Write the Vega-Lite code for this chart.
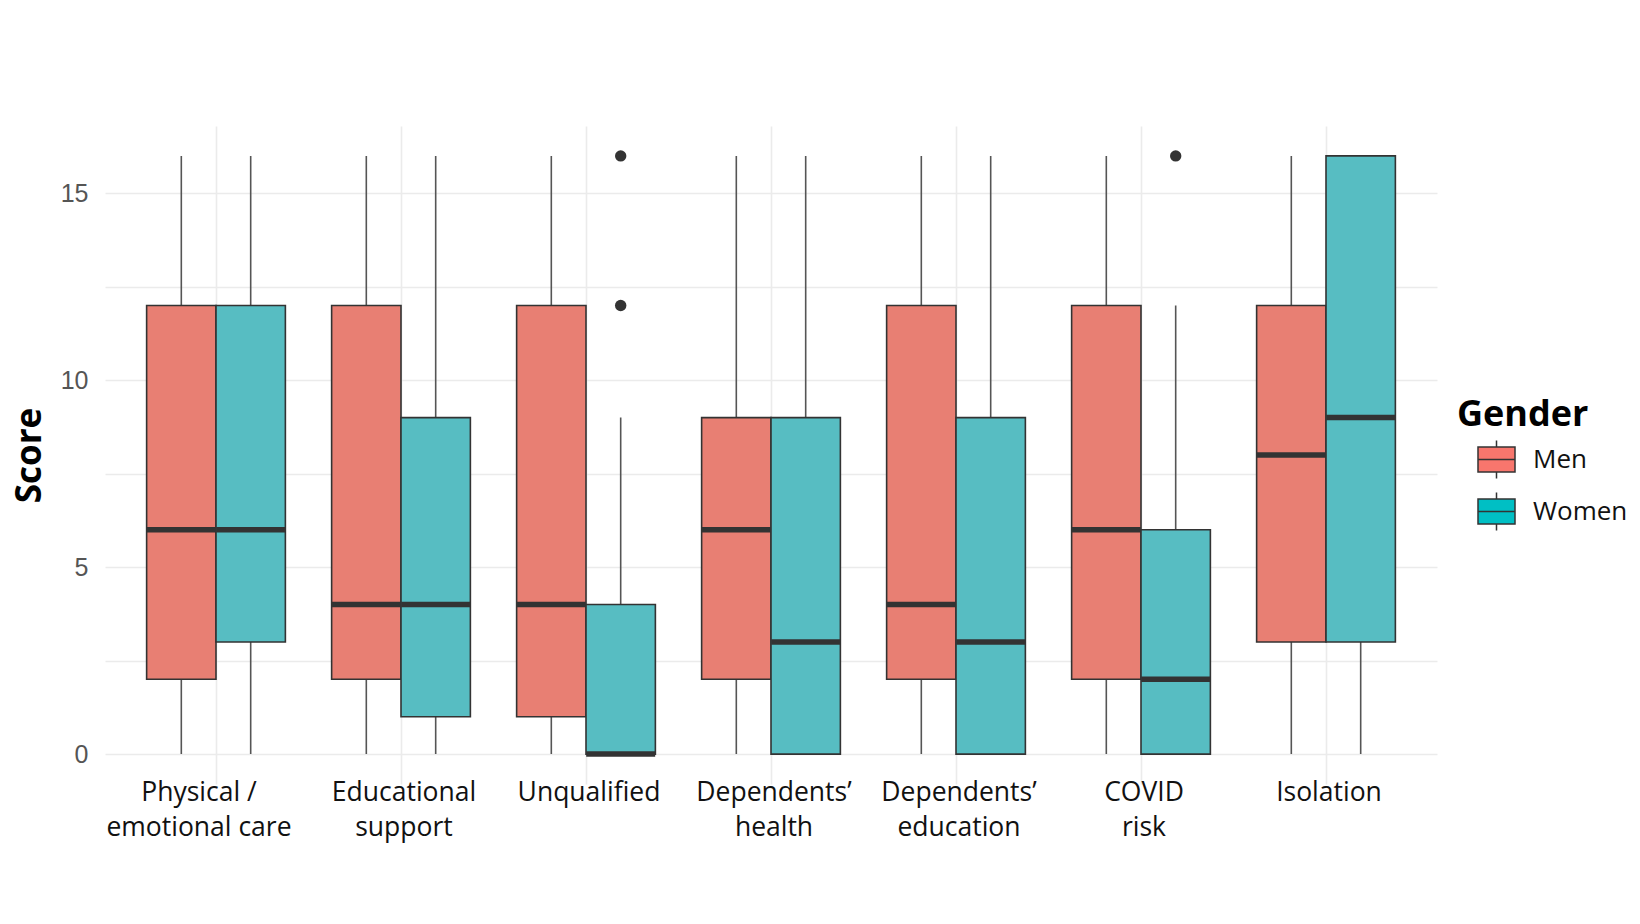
{
  "$schema": "https://vega.github.io/schema/vega-lite/v6.json",
  "autosize": "none",
  "width": 1332,
  "height": 658,
  "padding": {"left": 105, "top": 126, "right": 203, "bottom": 140},
  "background": "white",
  "config": {
    "view": {"stroke": null},
    "font": "Open Sans",
    "axis": {"domain": false, "ticks": false, "gridColor": "#EBEBEB", "gridWidth": 1.6}
  },
  "datasets": {
    "boxes": [
      {"cat": "Physical /|emotional care", "g": "Men", "lo": 0, "q1": 2, "med": 6, "q3": 12, "hi": 16},
      {"cat": "Physical /|emotional care", "g": "Women", "lo": 0, "q1": 3, "med": 6, "q3": 12, "hi": 16},
      {"cat": "Educational|support", "g": "Men", "lo": 0, "q1": 2, "med": 4, "q3": 12, "hi": 16},
      {"cat": "Educational|support", "g": "Women", "lo": 0, "q1": 1, "med": 4, "q3": 9, "hi": 16},
      {"cat": "Unqualified", "g": "Men", "lo": 0, "q1": 1, "med": 4, "q3": 12, "hi": 16},
      {"cat": "Unqualified", "g": "Women", "lo": 0, "q1": 0, "med": 0, "q3": 4, "hi": 9},
      {"cat": "Dependents’|health", "g": "Men", "lo": 0, "q1": 2, "med": 6, "q3": 9, "hi": 16},
      {"cat": "Dependents’|health", "g": "Women", "lo": 0, "q1": 0, "med": 3, "q3": 9, "hi": 16},
      {"cat": "Dependents’|education", "g": "Men", "lo": 0, "q1": 2, "med": 4, "q3": 12, "hi": 16},
      {"cat": "Dependents’|education", "g": "Women", "lo": 0, "q1": 0, "med": 3, "q3": 9, "hi": 16},
      {"cat": "COVID|risk", "g": "Men", "lo": 0, "q1": 2, "med": 6, "q3": 12, "hi": 16},
      {"cat": "COVID|risk", "g": "Women", "lo": 0, "q1": 0, "med": 2, "q3": 6, "hi": 12},
      {"cat": "Isolation", "g": "Men", "lo": 0, "q1": 3, "med": 8, "q3": 12, "hi": 16},
      {"cat": "Isolation", "g": "Women", "lo": 0, "q1": 3, "med": 9, "q3": 16, "hi": 16}
    ],
    "outliers": [
      {"cat": "Unqualified", "g": "Women", "v": 12},
      {"cat": "Unqualified", "g": "Women", "v": 16},
      {"cat": "COVID|risk", "g": "Women", "v": 16}
    ]
  },
  "encoding": {
    "x": {
      "field": "cat",
      "type": "nominal",
      "sort": ["Physical /|emotional care", "Educational|support", "Unqualified", "Dependents’|health", "Dependents’|education", "COVID|risk", "Isolation"],
      "scale": {"paddingInner": 0.25, "paddingOuter": 0.225},
      "axis": {
        "title": null,
        "labelAngle": 0,
        "labelExpr": "split(datum.value, '|')",
        "labelFontSize": 26.5,
        "labelLineHeight": 35,
        "labelLimit": 0,
        "labelColor": "#111111",
        "labelPadding": -5,
        "labelOffset": {"condition": {"test": "datum.value == 'Physical /|emotional care'", "value": -17}, "value": 3},
        "bandPosition": 0.5,
        "grid": true
      }
    },
    "xOffset": {
      "field": "g",
      "type": "nominal",
      "scale": {"domain": ["Men", "Women"], "paddingInner": 0, "paddingOuter": 0}
    }
  },
  "resolve": {"scale": {"fill": "independent"}, "legend": {"fill": "independent"}},
  "layer": [
    {
      "data": {"name": "boxes"},
      "mark": {"type": "rule", "color": "#555555", "strokeWidth": 1.6},
      "encoding": {
        "y": {
          "field": "lo",
          "type": "quantitative",
          "scale": {"domain": [-0.8, 16.8], "nice": false, "zero": false},
          "axis": {
            "title": "Score",
            "titleFontSize": 35,
            "titleFontWeight": "bold",
            "titleColor": "black",
            "titlePadding": 13,
            "values": [0, 2.5, 5, 7.5, 10, 12.5, 15],
            "labelExpr": "datum.value % 5 == 0 ? datum.label : ''",
            "labelFontSize": 25,
            "labelFont": "Liberation Sans",
            "labelColor": "#555555",
            "labelPadding": 17
          }
        },
        "y2": {"field": "hi"}
      }
    },
    {
      "data": {"name": "boxes"},
      "mark": {"type": "bar", "stroke": "#333333", "strokeWidth": 1.6},
      "encoding": {
        "y": {"field": "q1", "type": "quantitative"},
        "y2": {"field": "q3"},
        "fill": {
          "field": "g",
          "type": "nominal",
          "scale": {"domain": ["Men", "Women"], "range": ["#E87F73", "#57BDC2"]},
          "legend": null
        }
      }
    },
    {
      "data": {"name": "boxes"},
      "mark": {"type": "tick", "color": "#333333", "thickness": 5.5, "size": 69, "orient": "horizontal", "opacity": 1},
      "encoding": {
        "y": {"field": "med", "type": "quantitative"}
      }
    },
    {
      "data": {"name": "outliers"},
      "mark": {"type": "point", "filled": true, "color": "#333333", "size": 130, "opacity": 1},
      "encoding": {
        "y": {"field": "v", "type": "quantitative"}
      }
    },
    {
      "data": {"name": "boxes"},
      "transform": [{"filter": "datum.hi < 0"}],
      "mark": {"type": "bar"},
      "encoding": {
        "y": {"field": "q1", "type": "quantitative"},
        "fill": {
          "field": "g",
          "type": "nominal",
          "scale": {"domain": ["Men", "Women"], "range": ["#F8766D", "#00BFC4"]},
          "legend": {
            "title": "Gender",
            "orient": "none",
            "legendX": 1352,
            "legendY": 272,
            "padding": 0,
            "titleFontSize": 36,
            "titleFontWeight": "bold",
            "titleColor": "black",
            "titlePadding": 6,
            "labelFontSize": 26,
            "labelColor": "#111111",
            "labelOffset": 17,
            "symbolOffset": 20,
            "symbolType": "M-1,-0.68H1V0.68H-1Z M-1,0H1 M0,-0.68V-1.03 M0,0.68V1.03",
            "symbolSize": 1369,
            "symbolStrokeColor": "#333333",
            "symbolStrokeWidth": 1.5,
            "symbolOpacity": 1,
            "rowPadding": 7
          }
        }
      }
    }
  ]
}
